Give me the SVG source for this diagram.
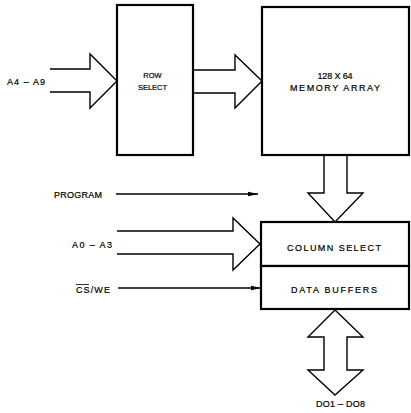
<svg xmlns="http://www.w3.org/2000/svg" width="411" height="413" viewBox="0 0 411 413">
<style>
.box{fill:#fff;stroke:#000;stroke-width:2.2}
.big{fill:#fff;stroke:#000;stroke-width:1.4;stroke-linejoin:miter}
.sig{fill:none;stroke:#000;stroke-width:1.3}
text{font-family:"Liberation Sans",Arial,sans-serif;font-size:9px;fill:#000;stroke:#000;stroke-width:0.2}
.c{text-anchor:middle}
.s{font-size:7.5px}
</style>
<defs>
<marker id="ah" viewBox="0 0 10 6" refX="10" refY="3" markerWidth="10" markerHeight="6" markerUnits="userSpaceOnUse" orient="auto">
<path d="M0,0.8 L10,3 L0,5.2 Z" fill="#000"/>
</marker>
</defs>
<rect width="411" height="413" fill="#fff"/>
<g id="connectors">
<path class="big" d="M50,69 H90 V54 L117,81 L90,108 V92 H50"/>
<path class="big" d="M193,70 H235 V55 L262,81 L235,108 V93 H193"/>
<path class="big" d="M324,155 V193 H308 L335,222 L363,193 H347 V155"/>
<path class="big" d="M117,231 H233 V218 L260,244 L233,270 V254 H117"/>
<path class="big" d="M335,310 L308,337 H324 V370 H308 L335,395 L363,370 H347 V337 H363 Z"/>
<line class="sig" x1="116" y1="194" x2="258" y2="194" marker-end="url(#ah)"/>
<line class="sig" x1="118" y1="288" x2="261" y2="288" marker-end="url(#ah)"/>
</g>
<g id="labels">
<text x="7" y="85" textLength="38" lengthAdjust="spacing">A4 – A9</text>
<text x="54" y="197.5" textLength="48" lengthAdjust="spacing">PROGRAM</text>
<text x="72" y="247.5" textLength="40" lengthAdjust="spacing">A0 – A3</text>
<text x="76" y="292.5" textLength="34" lengthAdjust="spacing">CS/WE</text>
<line x1="76" y1="284.5" x2="89" y2="284.5" stroke="#000" stroke-width="0.8"/>
<text x="316" y="407" textLength="49" lengthAdjust="spacing">DO1 – DO8</text>
</g>
<g id="row-select">
<rect class="box" x="117" y="5" width="76" height="150"/>
<text class="c s" x="152.5" y="77.5">ROW</text>
<text class="c s" x="152.5" y="89.5">SELECT</text>
</g>
<g id="memory-array">
<rect class="box" x="262" y="7" width="147" height="148"/>
<text class="c" x="335" y="79" textLength="35" lengthAdjust="spacing">128 X 64</text>
<text class="c" x="335" y="90.5" textLength="90" lengthAdjust="spacing">MEMORY ARRAY</text>
</g>
<g id="column-select">
<rect class="box" x="261" y="222" width="148" height="44"/>
<text class="c" x="334" y="250.5" textLength="94" lengthAdjust="spacing">COLUMN SELECT</text>
</g>
<g id="data-buffers">
<rect class="box" x="261" y="266" width="148" height="43"/>
<text class="c" x="334" y="292.5" textLength="86" lengthAdjust="spacing">DATA BUFFERS</text>
</g>
</svg>
